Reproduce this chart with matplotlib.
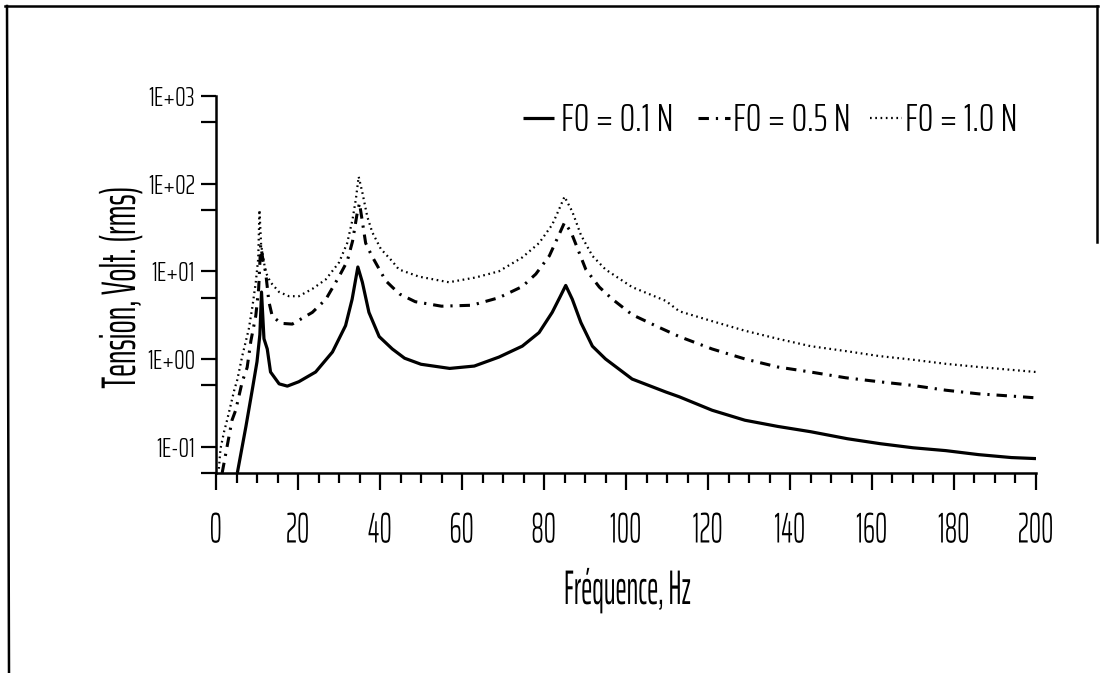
import matplotlib
matplotlib.use("Agg")
import matplotlib.pyplot as plt
from matplotlib.lines import Line2D
from matplotlib.patheffects import AbstractPathEffect
from matplotlib.transforms import Affine2D
from matplotlib.ticker import FixedLocator, NullFormatter

# ---- measured response, tension (V rms) versus excitation frequency (Hz) ----
freq_01 = [5.2, 7.3, 8.9, 10.0, 10.7, 11.1, 11.7, 12.5, 13.3, 15.4, 17.4, 20.2, 24.3, 28.4, 31.6,
           33.2, 34.6, 35.7, 37.3, 39.8, 43.0, 46.0, 50.0, 57.0, 63.0, 69.0, 74.7, 78.8, 82.0, 84.0,
           85.3, 86.9, 89.0, 91.8, 95.0, 101.5, 109.7, 113.0, 121.0, 129.0, 137.0, 145.0, 154.0,
           162.0, 170.0, 178.0, 186.0, 194.0, 200.0]
volt_01 = [0.05, 0.17, 0.46, 0.93, 1.9, 5.8, 1.7, 1.3, 0.71, 0.52, 0.49, 0.55, 0.71, 1.2, 2.4,
           4.8, 11.2, 7.5, 3.4, 1.8, 1.3, 1.02, 0.87, 0.78, 0.83, 1.05, 1.4, 2.0, 3.4, 5.2,
           6.9, 4.8, 2.6, 1.4, 1.0, 0.59, 0.42, 0.37, 0.26, 0.2, 0.17, 0.148, 0.123,
           0.108, 0.097, 0.09, 0.081, 0.075, 0.073]

freq_05 = [1.5, 3.9, 4.8, 6.4, 7.6, 8.5, 9.7, 10.4, 10.9, 11.5, 12.1, 12.9, 13.7, 15.8, 18.6,
           23.5, 26.8, 30.0, 32.0, 33.3, 34.4, 35.0, 36.5, 38.0, 41.4, 43.0, 44.8, 48.6, 55.0,
           62.4, 69.0, 74.7, 78.0, 81.3, 83.3, 85.0, 86.6, 90.2, 93.5, 96.7, 101.5, 108.0, 113.0,
           121.0, 129.0, 137.0, 145.0, 153.6, 161.7, 169.8, 178.0, 186.0, 193.0, 200.0]
volt_05 = [0.05, 0.2, 0.26, 0.55, 0.8, 1.6, 3.1, 6.3, 20.0, 13.0, 9.8, 4.5, 3.1, 2.55, 2.5,
           3.4, 4.8, 8.7, 13.0, 22.0, 45.0, 60.0, 21.0, 15.0, 7.8, 6.6, 5.5, 4.5, 4.0,
           4.1, 5.0, 6.7, 9.3, 15.0, 24.0, 36.0, 28.0, 10.5, 6.6, 4.8, 3.2, 2.3, 1.8,
           1.3, 1.0, 0.81, 0.71, 0.61, 0.55, 0.5, 0.44, 0.4, 0.38, 0.36]

freq_10 = [0.7, 1.1, 2.0, 2.7, 3.6, 4.5, 5.2, 6.4, 8.0, 8.9, 9.7, 10.3, 10.6, 11.0, 12.1, 13.3,
           15.4, 17.8, 20.2, 23.5, 26.8, 30.0, 32.0, 33.3, 34.1, 34.8, 35.7, 36.9, 38.1, 40.2,
           43.0, 44.6, 49.5, 56.8, 63.3, 69.0, 74.7, 78.8, 82.0, 83.6, 85.0, 86.9, 89.0, 91.8,
           95.0, 101.5, 109.7, 113.0, 121.0, 129.0, 137.0, 145.0, 153.6, 161.7, 170.0, 178.0,
           186.0, 200.0]
volt_10 = [0.056, 0.095, 0.15, 0.2, 0.3, 0.45, 0.58, 1.08, 2.2, 4.0, 7.5, 14.0, 50.0, 20.0, 9.8, 7.5,
           5.8, 5.2, 5.2, 6.3, 8.1, 12.6, 21.0, 39.0, 66.0, 120.0, 79.0, 42.0, 28.0, 18.0,
           13.0, 10.5, 8.7, 7.5, 8.5, 10.0, 14.4, 21.0, 34.0, 50.0, 71.0, 48.0, 26.0, 15.0,
           10.5, 6.6, 4.6, 3.5, 2.7, 2.1, 1.7, 1.4, 1.23, 1.08, 0.98, 0.88, 0.81, 0.71]

series_labels = ["F0 = 0.1 N", "F0 = 0.5 N", "F0 = 1.0 N"]

x_ticks = [0, 20, 40, 60, 80, 100, 120, 140, 160, 180, 200]
x_tick_labels = [str(v) for v in x_ticks]
y_ticks = [0.1, 1.0, 10.0, 100.0, 1000.0]
y_tick_labels = ["1E-01", "1E+00", "1E+01", "1E+02", "1E+03"]

x_title = "Fréquence, Hz"
y_title = "Tension, Volt. (rms)"

# ---- styling ----
W, H = 1100, 673
FONT = ["Saira ExtraCondensed", "DejaVu Sans"]
plt.rcParams["font.family"] = FONT
plt.rcParams["font.weight"] = 300
plt.rcParams["lines.scale_dashes"] = False


class Narrow(AbstractPathEffect):
    """Draw text glyphs squeezed along the reading direction."""

    def __init__(self, sx, anchor="center"):
        super().__init__()
        self._sx = sx
        self._anchor = anchor

    def draw_path(self, renderer, gc, tpath, affine, rgbFace=None):
        xs = tpath.vertices[:, 0]
        if xs.size:
            lo, hi = xs.min(), xs.max()
            cx = {"left": lo, "right": hi}.get(self._anchor, 0.5 * (lo + hi))
        else:
            cx = 0.0
        squeeze = Affine2D().translate(-cx, 0).scale(self._sx, 1.0).translate(cx, 0)
        renderer.draw_path(gc, tpath, squeeze + affine, rgbFace)


styles = [
    dict(color="black", lw=2.3, ls="-", solid_capstyle="butt"),
    dict(color="black", lw=2.2, ls=(0, (7.5, 5.0, 1.6, 5.0)), dash_capstyle="butt"),
    dict(color="black", lw=1.6, ls=(0, (1.2, 2.6)), dash_capstyle="butt"),
]


def px(x):
    return x / W


def py(y):
    return 1 - y / H


fig = plt.figure(figsize=(W / 100, H / 100), dpi=100)
ax_left, ax_right, ax_top, ax_bottom = 216, 1036, 96, 473
ax = fig.add_axes([px(ax_left), py(ax_bottom), (ax_right - ax_left) / W, (ax_bottom - ax_top) / H])

series = [(freq_01, volt_01), (freq_05, volt_05), (freq_10, volt_10)]
for (f, v), st, lab in zip(series, styles, series_labels):
    ax.plot(f, v, label=lab, **st)

ax.set_yscale("log")
ax.set_xlim(0, 200)
ax.set_ylim(0.05, 1000)

for side in ("top", "right"):
    ax.spines[side].set_visible(False)
for side in ("left", "bottom"):
    ax.spines[side].set_linewidth(1.8)

ax.set_xticks(x_ticks, x_tick_labels)
ax.xaxis.set_minor_locator(FixedLocator(list(range(0, 201, 5))))
ax.yaxis.set_major_locator(FixedLocator(y_ticks))
ax.set_yticklabels(y_tick_labels)
ax.yaxis.set_minor_locator(FixedLocator([0.05, 0.5, 5.0, 50.0, 500.0]))
ax.yaxis.set_minor_formatter(NullFormatter())

ax.tick_params(axis="x", which="major", length=12, width=1.6, pad=15, labelsize=31)
ax.tick_params(axis="x", which="minor", length=7, width=1.6)
ax.tick_params(axis="y", which="major", length=11, width=1.6, pad=4, labelsize=19)
ax.tick_params(axis="y", which="minor", length=11, width=1.6)

for t in ax.xaxis.get_major_ticks():
    t.label1.set_path_effects([Narrow(0.72, "center")])

ax.set_xlabel(x_title, fontsize=35, path_effects=[Narrow(0.62, "center")])
ax.xaxis.set_label_coords((628 - ax_left) / (ax_right - ax_left), (ax_bottom - 568) / (ax_bottom - ax_top))
ax.set_ylabel(y_title, fontsize=35, path_effects=[Narrow(0.72, "center")])
ax.yaxis.set_label_coords((144 - ax_left) / (ax_right - ax_left), (ax_bottom - 287) / (ax_bottom - ax_top))

# legend row above the plotting area
legend_handles = [(523, 554), (698, 730), (870, 902)]
legend_text_x = [561, 733, 905]
legend_mid, legend_base = 118, 131
for (x0, x1), tx, st, lab in zip(legend_handles, legend_text_x, styles, series_labels):
    fig.add_artist(Line2D([px(x0), px(x1)], [py(legend_mid), py(legend_mid)],
                          transform=fig.transFigure, **st))
    fig.text(px(tx), py(legend_base), lab, fontsize=28, ha="left", va="baseline")

# page frame
frame_kw = dict(transform=fig.transFigure, color="black", lw=1.8)
fig.add_artist(Line2D([px(5), px(1098)], [py(6), py(6)], **frame_kw))
fig.add_artist(Line2D([px(7), px(9)], [py(6), py(673)], **frame_kw))
fig.add_artist(Line2D([px(1097), px(1097)], [py(6), py(242)], **frame_kw))

fig.savefig("out.png", dpi=100, facecolor="white")
